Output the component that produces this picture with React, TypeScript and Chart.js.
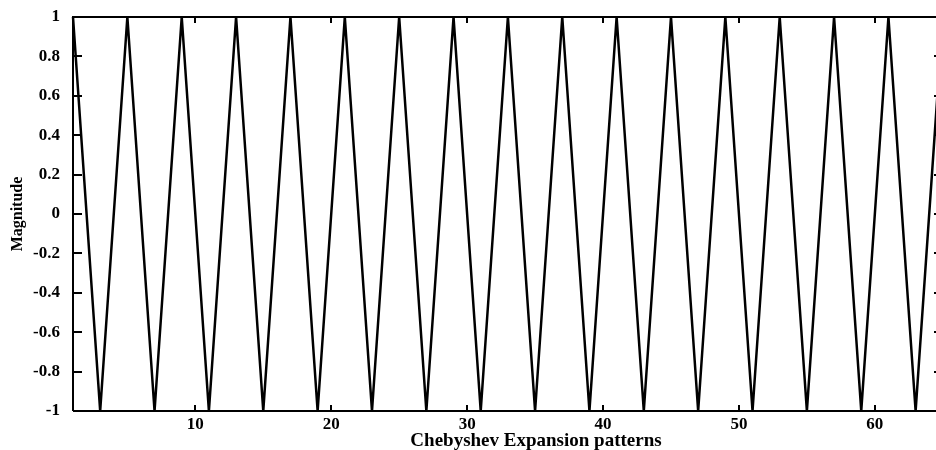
import React, { useEffect, useRef } from "react";
import { Chart, registerables } from "chart.js";

Chart.register(...registerables);

// Data
const patternIndex = [1, 3, 5, 7, 9, 11, 13, 15, 17, 19, 21, 23, 25, 27, 29, 31, 33, 35, 37, 39, 41, 43, 45, 47, 49, 51, 53, 55, 57, 59, 61, 63, 65];
const magnitude = [1, -1, 1, -1, 1, -1, 1, -1, 1, -1, 1, -1, 1, -1, 1, -1, 1, -1, 1, -1, 1, -1, 1, -1, 1, -1, 1, -1, 1, -1, 1, -1, 1];
const xTicks = [10, 20, 30, 40, 50, 60];
const yTicks = [-1, -0.8, -0.6, -0.4, -0.2, 0, 0.2, 0.4, 0.6, 0.8, 1];
const xTitle = "Chebyshev Expansion patterns";
const yTitle = "Magnitude";

const FONT = '"Liberation Serif", "Times New Roman", serif';

const framePlugin = {
  id: "frame",
  afterDraw(chart: any) {
    const { ctx, chartArea } = chart;
    const xs = chart.scales.x;
    const ys = chart.scales.y;
    const { left, right, top, bottom } = chartArea;
    const rightBorder = right + 7;
    ctx.save();
    ctx.strokeStyle = "#000";
    ctx.lineWidth = 2;
    ctx.beginPath();
    ctx.moveTo(left, bottom);
    ctx.lineTo(left, top);
    ctx.lineTo(rightBorder, top);
    ctx.lineTo(rightBorder, bottom);
    ctx.lineTo(left, bottom);
    ctx.stroke();
    ctx.beginPath();
    yTicks.forEach((v) => {
      const py = Math.round(ys.getPixelForValue(v));
      ctx.moveTo(left, py);
      ctx.lineTo(left + 9, py);
      ctx.moveTo(rightBorder, py);
      ctx.lineTo(rightBorder - 9, py);
    });
    xTicks.forEach((v) => {
      const px = Math.round(xs.getPixelForValue(v));
      ctx.moveTo(px, bottom);
      ctx.lineTo(px, bottom - 6);
      ctx.moveTo(px, top);
      ctx.lineTo(px, top + 6);
    });
    ctx.stroke();
    ctx.fillStyle = "#000";
    ctx.font = `bold 19px ${FONT}`;
    ctx.textAlign = "center";
    ctx.textBaseline = "alphabetic";
    ctx.fillText(xTitle, (left + rightBorder) / 2 + 28, 446);
    ctx.restore();
  },
};

export default function App() {
  const ref = useRef<HTMLCanvasElement | null>(null);
  useEffect(() => {
    if (!ref.current) return;
    const chart = new Chart(ref.current, {
      type: "line",
      data: {
        datasets: [
          {
            data: patternIndex.map((x, i) => ({ x, y: magnitude[i] })),
            borderColor: "#000",
            borderWidth: 2.5,
            pointRadius: 0,
            tension: 0,
            fill: false,
            clip: false as any,
          },
        ],
      },
      options: {
        responsive: false,
        animation: false,
        layout: { padding: { top: 17, right: 0, left: 0, bottom: 0 } },
        plugins: { legend: { display: false }, tooltip: { enabled: false } },
        scales: {
          x: {
            type: "linear",
            min: 1,
            max: 64.5,
            grid: { display: false, drawTicks: false },
            border: { display: false },
            afterBuildTicks: (scale: any) => {
              scale.ticks = xTicks.map((v) => ({ value: v }));
            },
            afterFit: (scale: any) => {
              scale.height = 39;
              scale.paddingLeft = 0;
              scale.paddingRight = 0;
            },
            ticks: {
              color: "#000",
              font: { family: FONT, size: 17, weight: "bold" },
              padding: 3,
              maxRotation: 0,
              autoSkip: false,
              callback: (v: any) => String(v),
            },
          },
          y: {
            type: "linear",
            min: -1,
            max: 1,
            grid: { display: false, drawTicks: false },
            border: { display: false },
            afterBuildTicks: (scale: any) => {
              scale.ticks = yTicks.map((v) => ({ value: v }));
            },
            afterFit: (scale: any) => {
              scale.width = 73;
              scale.paddingTop = 0;
              scale.paddingBottom = 0;
            },
            ticks: {
              color: "#000",
              font: { family: FONT, size: 17, weight: "bold" },
              padding: 13,
              autoSkip: false,
              callback: (v: any) => String(Math.round(Number(v) * 10) / 10),
            },
            title: {
              display: true,
              text: yTitle,
              color: "#000",
              font: { family: FONT, size: 16, weight: "bold" },
              padding: { top: 8, bottom: 0 },
            },
          },
        },
      },
      plugins: [framePlugin],
    });
    return () => chart.destroy();
  }, []);
  return (
    <div style={{ position: "fixed", left: 0, top: 0, width: 936, height: 450, background: "#fff", overflow: "hidden" }}>
      <canvas ref={ref} width={936} height={450} style={{ width: 936, height: 450, display: "block" }} />
    </div>
  );
}
